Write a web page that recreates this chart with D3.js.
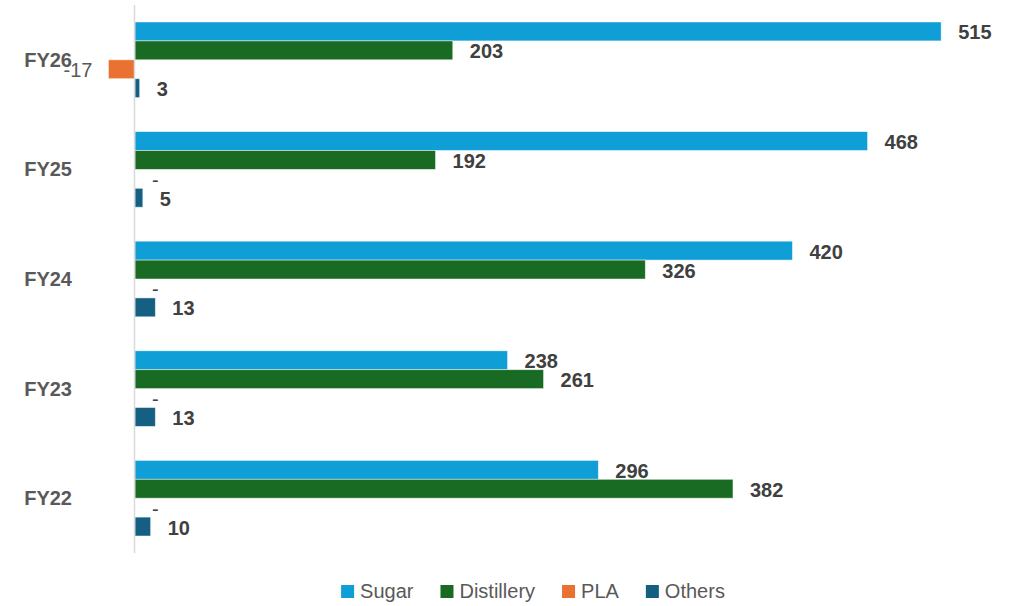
<!DOCTYPE html>
<html>
<head>
<meta charset="utf-8">
<script src="https://cdn.jsdelivr.net/npm/d3@7/dist/d3.min.js"></script>
<style>
  body { margin: 0; background: #fff; }
  text { font-family: "Liberation Sans", Arial, sans-serif; }
</style>
</head>
<body>
<div id="chart"></div>
<script>
var years = ["FY26", "FY25", "FY24", "FY23", "FY22"];
var seriesNames = ["Sugar", "Distillery", "PLA", "Others"];
var sugar = [515, 468, 420, 238, 296];
var distillery = [203, 192, 326, 261, 382];
var pla = [-17, 0, 0, 0, 0];
var others = [3, 5, 13, 13, 10];
var colors = ["#0F9ED5", "#196B24", "#E97132", "#156082"];

var seriesValues = [sugar, distillery, pla, others];

var width = 1014, height = 606;
var plotTop = 5, plotBottom = 553, labelMaxRight = 993;

var svg = d3.select("#chart").append("svg")
    .attr("width", width)
    .attr("height", height);

// value scale: 0 sits on the axis line at x=135
var x = d3.scaleLinear()
    .domain([0, 520])
    .range([135, 949]);

var y = d3.scaleBand()
    .domain(years)
    .range([plotTop, plotBottom])
    .paddingInner(0.31)
    .paddingOuter(0.155);

var ySub = d3.scaleBand()
    .domain(seriesNames)
    .range([0, y.bandwidth()]);

// rows: one per year and series
var rows = [];
years.forEach(function (yr, i) {
    seriesNames.forEach(function (s, j) {
        rows.push({year: yr, series: s, value: seriesValues[j][i], color: colors[j]});
    });
});

var g = svg.append("g");

g.selectAll("rect.bar")
    .data(rows)
    .enter().append("rect")
    .attr("class", "bar")
    .attr("x", function (d) { return x(Math.min(0, d.value)); })
    .attr("y", function (d) { return y(d.year) + ySub(d.series); })
    .attr("width", function (d) { return Math.abs(x(d.value) - x(0)); })
    .attr("height", ySub.bandwidth())
    .attr("fill", function (d) { return d.color; })
    .attr("stroke", "#ffffff")
    .attr("stroke-opacity", 0.6)
    .attr("stroke-width", 0.8);

// axis line (category axis at zero)
svg.append("line")
    .attr("x1", x(0) - 0.5)
    .attr("x2", x(0) - 0.5)
    .attr("y1", plotTop)
    .attr("y2", plotBottom)
    .attr("stroke", "#d9d9d9")
    .attr("stroke-width", 1.5);

// category labels
svg.selectAll("text.cat")
    .data(years)
    .enter().append("text")
    .attr("class", "cat")
    .attr("x", 72)
    .attr("y", function (d) { return y(d) + y.bandwidth() / 2; })
    .attr("dy", "0.35em")
    .attr("text-anchor", "end")
    .attr("font-size", "20px")
    .attr("font-weight", "bold")
    .attr("fill", "#595959")
    .text(function (d) { return d; });

// data labels
var labels = g.selectAll("text.val")
    .data(rows)
    .enter().append("text")
    .attr("class", "val")
    .attr("y", function (d) { return y(d.year) + ySub(d.series) + ySub.bandwidth() / 2 + 1; })
    .attr("dy", "0.35em")
    .attr("font-size", "20px")
    .attr("font-weight", function (d) { return d.value <= 0 ? "normal" : "bold"; })
    .attr("fill", function (d) { return d.value < 0 ? "#595959" : "#404040"; })
    .attr("text-anchor", function (d) { return d.value < 0 ? "end" : "start"; })
    .text(function (d) { return d.value === 0 ? "-" : d.value; })
    .attr("x", function (d) {
        return d.value < 0 ? x(d.value) - 16 : x(d.value) + 17;
    });

// keep labels inside the chart area
labels.each(function (d) {
    if (d.value > 0) {
        var w = this.getComputedTextLength();
        var lx = +d3.select(this).attr("x");
        if (lx + w > labelMaxRight) d3.select(this).attr("x", labelMaxRight - w);
    }
});

// legend
var legend = svg.append("g").attr("class", "legend");
var lx = 0;
seriesNames.forEach(function (s, i) {
    var item = legend.append("g").attr("transform", "translate(" + lx + ",0)");
    item.append("rect")
        .attr("x", 0)
        .attr("y", 585)
        .attr("width", 13)
        .attr("height", 13)
        .attr("fill", colors[i]);
    var t = item.append("text")
        .attr("x", 19)
        .attr("y", 598)
        .attr("font-size", "20px")
        .attr("fill", "#595959")
        .text(s);
    lx += 19 + t.node().getComputedTextLength() + 27;
});
var legendWidth = lx - 27;
legend.attr("transform", "translate(" + (533 - legendWidth / 2) + ",0)");
</script>
</body>
</html>
